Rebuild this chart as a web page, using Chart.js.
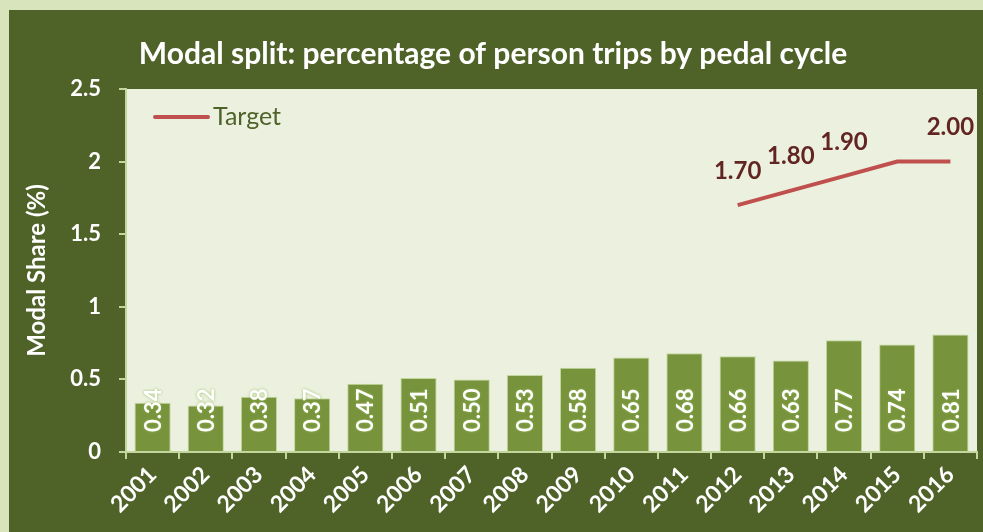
<!DOCTYPE html>
<html>
<head>
<meta charset="utf-8">
<script src="https://cdn.jsdelivr.net/npm/chart.js@4.4.1/dist/chart.umd.min.js"></script>
<style>
  html, body { margin: 0; padding: 0; background: #d8e4bc; }
  #frame { position: absolute; left: 9px; top: 10px; width: 974px; height: 522px; background: #4f6228; }
</style>
</head>
<body>
<div id="frame"><canvas id="modalChart" width="974" height="522"></canvas></div>
<script>
// ── data ──
const years = ['2001','2002','2003','2004','2005','2006','2007','2008','2009','2010','2011','2012','2013','2014','2015','2016'];
const cycleShare = [0.34, 0.32, 0.38, 0.37, 0.47, 0.51, 0.50, 0.53, 0.58, 0.65, 0.68, 0.66, 0.63, 0.77, 0.74, 0.81];
const targetShare = [null, null, null, null, null, null, null, null, null, null, null, 1.70, 1.80, 1.90, 2.00, 2.00];
const targetLabelShown = [false, false, false, false, false, false, false, false, false, false, false, true, true, true, false, true];
const yTicks = [0, 0.5, 1, 1.5, 2, 2.5];

const FONT = 'Lato, "Open Sans", sans-serif';
Chart.defaults.font.family = FONT;

// ── plot background + labels + legend ──
const decor = {
  id: 'decor',
  beforeDraw(chart) {
    const { ctx, chartArea: a } = chart;
    ctx.save();
    ctx.fillStyle = '#ebf1de';
    ctx.fillRect(a.left, a.top, a.right - a.left, a.bottom - a.top);
    ctx.restore();
  },
  afterDatasetsDraw(chart) {
    const { ctx, chartArea: a } = chart;
    ctx.save();
    // bar values, rotated
    const bars = chart.getDatasetMeta(0).data;
    ctx.font = 'bold 22px ' + FONT;
    ctx.fillStyle = '#ffffff';
    ctx.textBaseline = 'middle';
    ctx.textAlign = 'left';
    bars.forEach((b, i) => {
      ctx.save();
      ctx.translate(b.x + 1, b.base - 19);
      ctx.rotate(-Math.PI / 2);
      ctx.shadowColor = 'rgba(150,185,90,0.9)';
      ctx.shadowBlur = 3;
      ctx.fillText(cycleShare[i].toFixed(2), 0, 0);
      ctx.restore();
    });
    // target values
    const pts = chart.getDatasetMeta(1).data;
    ctx.font = 'bold 24px ' + FONT;
    ctx.fillStyle = '#632523';
    ctx.textAlign = 'center';
    pts.forEach((p, i) => {
      if (!targetLabelShown[i] || targetShare[i] == null) return;
      ctx.fillText(targetShare[i].toFixed(2), p.x, p.y - 34);
    });
    // legend
    const ly = a.top + 28;
    ctx.strokeStyle = '#c0504d';
    ctx.lineWidth = 4;
    ctx.lineCap = 'round';
    ctx.beginPath();
    ctx.moveTo(a.left + 29, ly);
    ctx.lineTo(a.left + 82, ly);
    ctx.stroke();
    ctx.font = '25px ' + FONT;
    ctx.fillStyle = '#4f6228';
    ctx.textAlign = 'left';
    ctx.fillText('Target', a.left + 87, ly);
    ctx.restore();
  }
};

new Chart(document.getElementById('modalChart'), {
  data: {
    labels: years,
    datasets: [
      {
        type: 'bar',
        label: 'Pedal cycle',
        data: cycleShare,
        backgroundColor: '#77933c',
        borderColor: '#c3d69b',
        borderWidth: 1,
        categoryPercentage: 1,
        barPercentage: 0.68,
        order: 2
      },
      {
        type: 'line',
        label: 'Target',
        data: targetShare,
        borderColor: '#c0504d',
        borderWidth: 4,
        pointRadius: 0,
        tension: 0,
        fill: false,
        order: 1
      }
    ]
  },
  options: {
    responsive: false,
    animation: false,
    layout: { padding: { left: 0, right: 6, top: 0, bottom: 0 } },
    plugins: {
      legend: { display: false },
      tooltip: { enabled: false },
      title: {
        display: true,
        text: 'Modal split: percentage of person trips by pedal cycle',
        color: '#ffffff',
        font: { size: 30, weight: 'bold' },
        padding: { top: 26, bottom: 17 }
      }
    },
    scales: {
      x: {
        grid: { display: true, offset: true, drawOnChartArea: false, color: '#c3d69b', tickLength: 7, lineWidth: 2 },
        border: { display: true, color: '#c3d69b', width: 2 },
        ticks: { color: '#ffffff', font: { size: 23, weight: 'bold' }, maxRotation: 45, minRotation: 45, padding: 2 },
        afterFit: s => { s.height = 80; }
      },
      y: {
        min: 0,
        max: 2.5,
        afterBuildTicks: s => { s.ticks = yTicks.map(v => ({ value: v })); },
        grid: { display: true, drawOnChartArea: false, color: '#c3d69b', tickLength: 7, lineWidth: 2 },
        border: { display: true, color: '#c3d69b', width: 2 },
        ticks: { color: '#ffffff', font: { size: 22, weight: 'bold' }, padding: 18, callback: v => String(v) },
        title: { display: true, text: 'Modal Share (%)', color: '#ffffff', font: { size: 24, weight: 'bold' }, padding: { top: 14, bottom: 4 } },
        afterFit: s => { s.width = 117; }
      }
    }
  },
  plugins: [decor]
});
</script>
</body>
</html>
